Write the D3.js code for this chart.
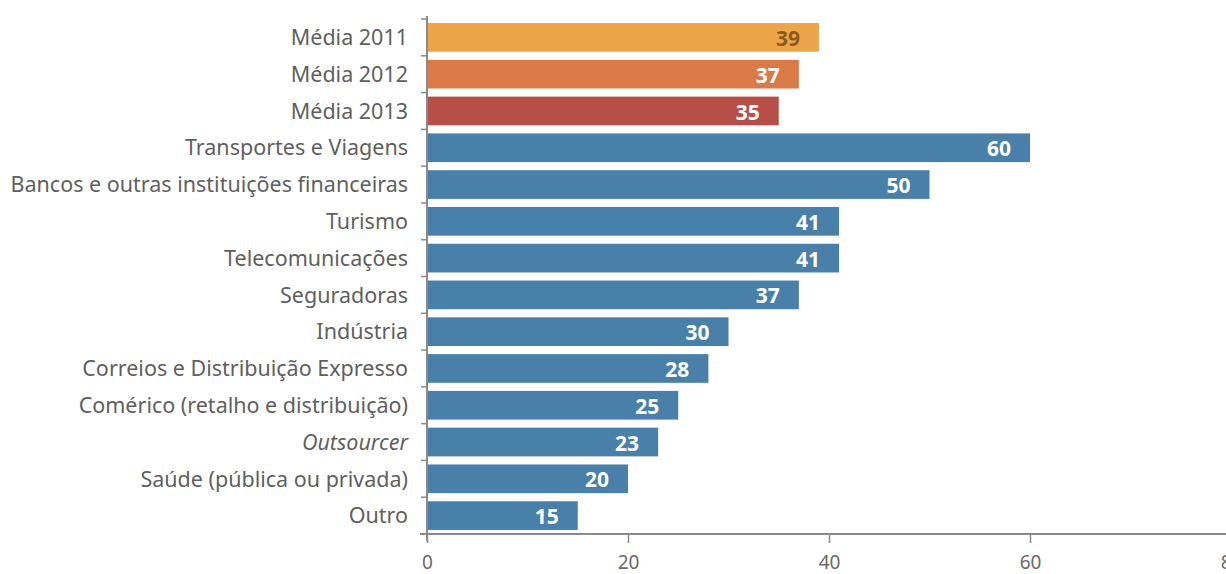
<!DOCTYPE html>
<html>
<head>
<meta charset="utf-8">
<script src="https://cdn.jsdelivr.net/npm/d3@7"></script>
<style>
  html, body { margin: 0; padding: 0; background: #fff; }
  svg { display: block; }
</style>
</head>
<body>
<svg id="chart" width="1226" height="574"></svg>
<script>
// Sector categories (top to bottom) and their values
const categories = [
  "Média 2011", "Média 2012", "Média 2013",
  "Transportes e Viagens",
  "Bancos e outras instituições financeiras",
  "Turismo", "Telecomunicações", "Seguradoras", "Indústria",
  "Correios e Distribuição Expresso",
  "Comérico (retalho e distribuição)",
  "Outsourcer",
  "Saúde (pública ou privada)", "Outro"
];
const values = [39, 37, 35, 60, 50, 41, 41, 37, 30, 28, 25, 23, 20, 15];
const xTicks = [0, 20, 40, 60, 80];

const barColors = {
  "Média 2011": "#EDA549",
  "Média 2012": "#DA7A46",
  "Média 2013": "#B64F47"
};
const defaultColor = "#4880A9";
const labelColors = { "Média 2011": "#8A5C17" };

const fontFamily = "'Noto Sans', 'Open Sans', sans-serif";
const svg = d3.select("#chart");

const x = d3.scaleLinear().domain([0, 80]).range([427, 1231]);
const y = d3.scaleBand().domain(categories).range([19, 534])
  .paddingInner(0.22).paddingOuter(0.11);

const data = categories.map((c, i) => ({ cat: c, value: values[i] }));

// bars
svg.append("g").selectAll("rect").data(data).join("rect")
  .attr("x", x(0))
  .attr("y", d => y(d.cat))
  .attr("width", d => x(d.value) - x(0))
  .attr("height", y.bandwidth())
  .attr("fill", d => barColors[d.cat] || defaultColor);

// value labels inside bar ends
svg.append("g").selectAll("text").data(data).join("text")
  .attr("x", d => x(d.value) - 19)
  .attr("y", d => y(d.cat) + y.bandwidth() / 2 + 1)
  .attr("dy", "0.36em")
  .attr("text-anchor", "end")
  .attr("font-family", fontFamily)
  .attr("font-weight", "bold")
  .attr("font-size", 21)
  .attr("fill", d => labelColors[d.cat] || "#fff")
  .text(d => d.value);

// x axis
const axisColor = "#8a8a8a";
const xAxis = svg.append("g")
  .attr("transform", "translate(0,534)")
  .call(d3.axisBottom(x).tickValues(xTicks).tickSize(9).tickSizeOuter(0).tickPadding(13));
xAxis.select(".domain").remove();
xAxis.append("line").attr("x1", 420).attr("x2", 1226).attr("y1", 0).attr("y2", 0)
  .attr("stroke", axisColor).attr("stroke-width", 2);
xAxis.selectAll(".tick line").attr("stroke", axisColor).attr("stroke-width", 1.5);
xAxis.selectAll(".tick text")
  .attr("font-family", fontFamily).attr("font-size", 19).attr("fill", "#6a6a6a");

// y axis: line with ticks at category boundaries
const yAxisG = svg.append("g");
yAxisG.append("line").attr("x1", 427).attr("x2", 427).attr("y1", 16).attr("y2", 541)
  .attr("stroke", axisColor).attr("stroke-width", 2);
const step = y.step();
const bounds = categories.map(c => y(c) - (step - y.bandwidth()) / 2).concat([534]);
yAxisG.selectAll("line.tick").data(bounds).join("line")
  .attr("class", "tick")
  .attr("x1", 421).attr("x2", 427)
  .attr("y1", d => d).attr("y2", d => d)
  .attr("stroke", axisColor).attr("stroke-width", 1.5);

// category labels
svg.append("g").selectAll("text").data(categories).join("text")
  .attr("x", 408)
  .attr("y", d => y(d) + y.bandwidth() / 2)
  .attr("dy", "0.36em")
  .attr("text-anchor", "end")
  .attr("font-family", fontFamily)
  .attr("font-size", 21.5)
  .attr("font-style", d => d === "Outsourcer" ? "italic" : "normal")
  .attr("fill", "#5f5f5f")
  .text(d => d);
</script>
</body>
</html>
